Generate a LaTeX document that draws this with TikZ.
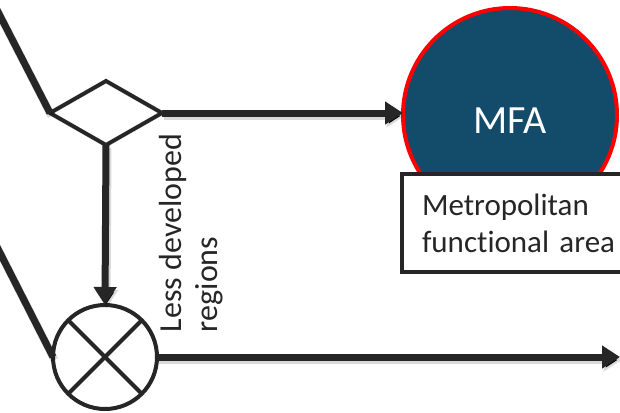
\documentclass[tikz,border=0pt]{standalone}
\usepackage{fontspec}
\setmainfont{Carlito}[Ligatures=NoCommon]
\usetikzlibrary{arrows.meta,shapes.geometric}
\definecolor{ink}{HTML}{262626}
\definecolor{mfablue}{HTML}{134B6A}
\definecolor{mfared}{HTML}{FF0000}
\tikzset{
  shade under/.style={preaction={draw=black, draw opacity=0.15, line width=8pt,
    transform canvas={shift={(1.5pt,-3pt)}}}},
  flow/.style={draw=ink, line width=7pt, shade under},
  flowarrow/.style={flow, -{Triangle[length=18pt,width=22pt]}},
  gate/.style={diamond, draw=ink, line width=4pt, fill=white,
    minimum width=112pt, minimum height=64pt, inner sep=0pt, outer sep=0pt},
  mixer/.style={circle, draw=ink, line width=4pt, fill=white,
    minimum size=104pt, inner sep=0pt, outer sep=0pt},
  area/.style={circle, draw=mfared, line width=4pt, fill=mfablue,
    minimum size=214pt, inner sep=0pt, outer sep=0pt},
  tag/.style={rectangle, draw=ink, line width=4pt, fill=white,
    text width=205pt, inner xsep=20pt, align=left, minimum height=98pt,
    font=\fontsize{31}{37}\selectfont, text=ink},
  sidetext/.style={rotate=90, align=left, text=ink,
    font=\fontsize{32}{36}\selectfont}
}
\begin{document}
\begin{tikzpicture}[x=1pt,y=-1pt]
\useasboundingbox (0,0) rectangle (620,412);
\fill[white] (0,0) rectangle (620,412);

% nodes
\node[gate]  (split) at (106,113) {};
\node[mixer] (mix)   at (105,357) {};
\node[area]  (mfa)   at (510,115) {};
\node[text=white, font=\fontsize{40}{40}\selectfont] (mfalbl) at (510,121) {MFA};
\node[tag, anchor=north west] (mfatag) at (400,172) {Metropolitan\\functional area};
\node[sidetext] (ldr) at (191,233) {Less developed\\regions};

% cross inside the mixer
\draw[ink, line width=4pt] (mix.north west) -- (mix.south east)
                           (mix.north east) -- (mix.south west);

% free ends
\coordinate (inA) at (-5,6);
\coordinate (inB) at (-5,243);
\coordinate (outB) at (620,357);

% connectors
\draw[flow] (inA) -- (split.west);
\draw[flow] (inB) -- (mix.west);
\draw[flowarrow] (split.east) -- (split.east -| mfa.west);
\draw[flowarrow] (split.south) -- (mix.north);
\draw[flowarrow] (mix.east) -- (outB);
\end{tikzpicture}
\end{document}
